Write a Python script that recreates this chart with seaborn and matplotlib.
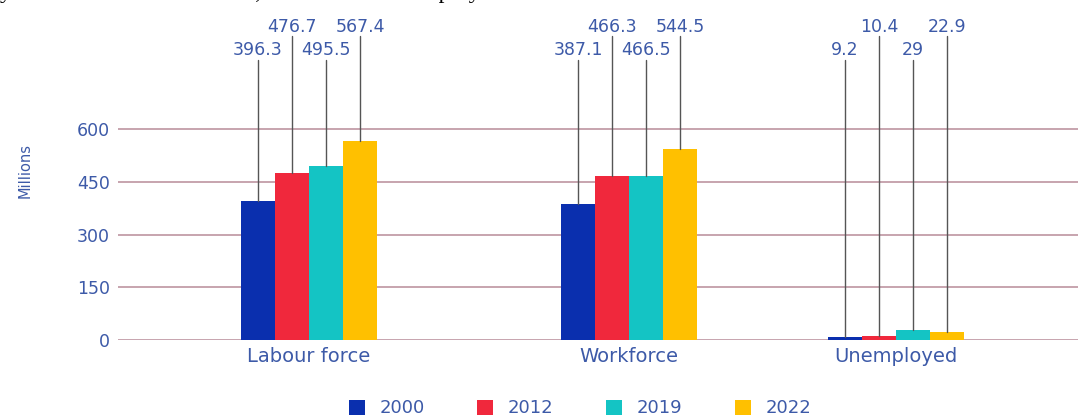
import matplotlib
matplotlib.use("Agg")
import matplotlib.pyplot as plt
import seaborn as sns
import pandas as pd
import numpy as np

categories = ["Labour force", "Workforce", "Unemployed"]
years = ["2000", "2012", "2019", "2022"]
v2000 = [396.3, 387.1, 9.2]
v2012 = [476.7, 466.3, 10.4]
v2019 = [495.5, 466.5, 29]
v2022 = [567.4, 544.5, 22.9]
yticks = [0, 150, 300, 450, 600]

colors = ["#0a2fae", "#f0283c", "#14c4c4", "#ffc000"]
text_blue = "#3d5aa8"
group_pos = [0.0, 1.0, 1.834]

rows = []
for yr, vals in zip(years, [v2000, v2012, v2019, v2022]):
    for cat, pos, v in zip(categories, group_pos, vals):
        rows.append({"pos": pos, "year": yr, "value": v, "cat": cat})
df = pd.DataFrame(rows)

sns.set_theme(style="white")
plt.rcParams["font.family"] = ["DejaVu Sans"]

fig = plt.figure(figsize=(10.78, 4.19), dpi=100)
ax = fig.add_axes([0.1095, 0.1885, 0.8905, 0.8115])

sns.barplot(data=df, x="pos", y="value", hue="year", hue_order=years,
            palette=colors, native_scale=True, width=0.51, ax=ax,
            saturation=1, linewidth=0, errorbar=None, legend=True, zorder=3)

ax.set_xlim(-0.597, 2.403)
ax.set_ylim(0, 968)
ax.set_yticks(yticks)
ax.set_yticklabels([str(t) for t in yticks], color=text_blue, fontsize=12.5)
ax.set_xticks(group_pos)
ax.set_xticklabels(categories, color=text_blue, fontsize=14)
ax.tick_params(axis="y", length=0, pad=6)
ax.tick_params(axis="x", length=0, pad=5)
for s in ax.spines.values():
    s.set_visible(False)
for t in yticks:
    ax.axhline(t, color="#b88c98", lw=1.1, zorder=1)
ax.set_xlabel("")
ax.set_ylabel("Millions", color=text_blue, fontsize=10.5, labelpad=32)

# value labels with leader lines
label_y = {0: 826, 1: 892, 2: 826, 3: 892}
line_top = {0: 798, 1: 866, 2: 798, 3: 866}
for i, cont in enumerate(ax.containers):
    for bar in cont:
        xc = bar.get_x() + bar.get_width() / 2
        h = bar.get_height()
        ax.plot([xc, xc], [h, line_top[i]], color="#555555", lw=1.0, zorder=4)
        ax.text(xc, label_y[i], f"{h:g}", ha="center", va="center",
                color=text_blue, fontsize=12.5)

leg = ax.get_legend()
handles = leg.legend_handles
leg.remove()
fig.legend(handles, years, loc="lower center", bbox_to_anchor=(0.538, -0.035),
           ncol=4, frameon=False, fontsize=13, handlelength=0.9,
           handleheight=0.9, columnspacing=2.9, handletextpad=0.8,
           labelcolor=text_blue)

fig.text(0.0, 1.0 + 2.0 / 419, "y trends in the labour force, workforce and employ",
         family="Liberation Serif", fontsize=17, color="black",
         ha="left", va="baseline")

fig.savefig("out.png", dpi=100)
